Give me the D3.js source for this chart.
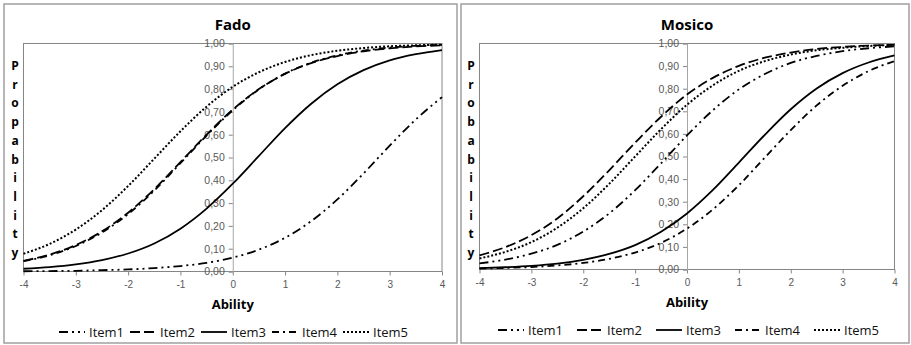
<!DOCTYPE html>
<html>
<head>
<meta charset="utf-8">
<script src="https://cdn.jsdelivr.net/npm/d3@7"></script>
<style>
  body { margin: 0; background: #fff; }
  svg { display: block; font-family: "Open Sans", "Liberation Sans", sans-serif; }
</style>
</head>
<body>
<svg id="chart" width="911" height="345"></svg>
<script>
// ability grid and ticks
const abilityGrid = [-4, -3.5, -3, -2.5, -2, -1.5, -1, -0.5, 0, 0.5, 1, 1.5, 2, 2.5, 3, 3.5, 4];
const xTickVals = [-4, -3, -2, -1, 0, 1, 2, 3, 4];
const yTickVals = [0, 0.1, 0.2, 0.3, 0.4, 0.5, 0.6, 0.7, 0.8, 0.9, 1];
const itemNames = ["Item1", "Item2", "Item3", "Item4", "Item5"];

// Fado
const fadoItem1 = [0.001, 0.002, 0.003, 0.006, 0.009, 0.015, 0.024, 0.038, 0.061, 0.096, 0.148, 0.221, 0.316, 0.430, 0.552, 0.667, 0.765];
const fadoItem2 = [0.047, 0.074, 0.116, 0.176, 0.258, 0.361, 0.480, 0.600, 0.710, 0.800, 0.867, 0.914, 0.945, 0.966, 0.979, 0.987, 0.992];
const fadoItem3 = [0.012, 0.019, 0.031, 0.050, 0.079, 0.123, 0.188, 0.276, 0.385, 0.507, 0.629, 0.736, 0.821, 0.883, 0.926, 0.953, 0.971];
const fadoItem4 = [0.045, 0.071, 0.112, 0.171, 0.252, 0.355, 0.475, 0.596, 0.707, 0.799, 0.868, 0.916, 0.948, 0.969, 0.982, 0.990, 0.994];
const fadoItem5 = [0.078, 0.121, 0.184, 0.269, 0.375, 0.495, 0.615, 0.723, 0.810, 0.874, 0.919, 0.949, 0.968, 0.980, 0.988, 0.992, 0.995];

// Mosico
const mosicoItem1 = [0.027, 0.044, 0.070, 0.109, 0.168, 0.248, 0.351, 0.470, 0.593, 0.705, 0.797, 0.865, 0.914, 0.945, 0.966, 0.979, 0.987];
const mosicoItem2 = [0.063, 0.099, 0.152, 0.226, 0.324, 0.439, 0.561, 0.676, 0.774, 0.848, 0.901, 0.937, 0.960, 0.976, 0.985, 0.991, 0.994];
const mosicoItem3 = [0.006, 0.010, 0.016, 0.026, 0.043, 0.069, 0.108, 0.167, 0.248, 0.352, 0.473, 0.596, 0.709, 0.801, 0.869, 0.916, 0.947];
const mosicoItem4 = [0.004, 0.007, 0.011, 0.018, 0.029, 0.047, 0.075, 0.118, 0.181, 0.266, 0.373, 0.495, 0.617, 0.726, 0.813, 0.878, 0.922];
const mosicoItem5 = [0.049, 0.078, 0.121, 0.185, 0.271, 0.379, 0.500, 0.621, 0.729, 0.815, 0.879, 0.922, 0.951, 0.970, 0.981, 0.989, 0.993];

// line styles per item
const dashes = ["9,4,2,4,2,4", "10,4", null, "7,4,2,4", "2,2"];

const svg = d3.select("#chart");
const fmt = d => d3.format(".2f")(d).replace(".", ",");

function drawPanel(cfg) {
  const g = svg.append("g");

  // outer frame
  g.append("rect")
    .attr("x", cfg.frame[0]).attr("y", cfg.frame[1])
    .attr("width", cfg.frame[2]).attr("height", cfg.frame[3])
    .attr("fill", "#fff").attr("stroke", "#a0a0a0").attr("stroke-width", 1.5);

  const x = d3.scaleLinear().domain([-4, 4]).range([cfg.left, cfg.right]);
  const y = d3.scaleLinear().domain([0, 1]).range([cfg.bottom, cfg.top]);

  // plot area border
  g.append("rect")
    .attr("x", cfg.left).attr("y", cfg.top)
    .attr("width", cfg.right - cfg.left).attr("height", cfg.bottom - cfg.top)
    .attr("fill", "none").attr("stroke", "#868686").attr("stroke-width", 1);

  // x axis ticks
  const xAxis = g.append("g")
    .attr("transform", `translate(0,${cfg.bottom})`)
    .call(d3.axisBottom(x).tickValues(xTickVals).tickSize(4).tickPadding(5).tickFormat(d3.format("d")));
  xAxis.select(".domain").remove();
  xAxis.selectAll("line").attr("stroke", "#868686");
  xAxis.selectAll("text").attr("fill", "#595959").style("font-size", "10px")
    .text(d => d < 0 ? "-" + Math.abs(d) : d);

  // y axis at ability 0
  const yAxis = g.append("g")
    .attr("transform", `translate(${x(0)},0)`)
    .call(d3.axisLeft(y).tickValues(yTickVals).tickSize(4).tickPadding(4).tickFormat(fmt));
  yAxis.select(".domain").attr("stroke", "#a6a6a6");
  yAxis.selectAll("line").attr("stroke", "#868686");
  yAxis.selectAll("text").attr("fill", "#595959").style("font-size", "10.5px");

  // curves
  const line = d3.line()
    .x((d, i) => x(abilityGrid[i]))
    .y(d => y(d))
    .curve(d3.curveMonotoneX);

  cfg.series.forEach((s, i) => {
    g.append("path")
      .datum(s)
      .attr("d", line)
      .attr("fill", "none")
      .attr("stroke", "#000")
      .attr("stroke-width", i === 4 ? 2 : 1.8)
      .attr("stroke-dasharray", dashes[i]);
  });

  // title
  g.append("text")
    .attr("x", x(0)).attr("y", 30)
    .attr("text-anchor", "middle")
    .style("font-size", "15px").style("font-weight", "bold")
    .text(cfg.title);

  // x label
  g.append("text")
    .attr("x", x(0)).attr("y", cfg.xLabelY)
    .attr("text-anchor", "middle")
    .style("font-size", "13px").style("font-weight", "bold")
    .text("Ability");

  // stacked y label
  g.selectAll(".ylab")
    .data(cfg.yLabel.split(""))
    .join("text")
    .attr("x", cfg.yLabelX)
    .attr("y", (d, i) => 70 + i * 18.7)
    .attr("text-anchor", "middle")
    .style("font-size", "12px").style("font-weight", "bold")
    .text(d => d);

  // legend
  const leg = g.append("g");
  itemNames.forEach((name, i) => {
    const lx = cfg.legendX + i * cfg.legendStep;
    leg.append("line")
      .attr("x1", lx).attr("x2", lx + 26)
      .attr("y1", cfg.legendY).attr("y2", cfg.legendY)
      .attr("stroke", "#000").attr("stroke-width", 1.8)
      .attr("stroke-dasharray", dashes[i]);
    leg.append("text")
      .attr("x", lx + 30).attr("y", cfg.legendY + 4.5)
      .style("font-size", "13px").attr("fill", "#111")
      .text(name);
  });
}

drawPanel({
  title: "Fado",
  frame: [4, 4, 453, 339],
  left: 23.5, right: 442, top: 43.5, bottom: 271.5,
  series: [fadoItem1, fadoItem2, fadoItem3, fadoItem4, fadoItem5],
  yLabel: "Propability",
  yLabelX: 15,
  xLabelY: 309,
  legendX: 59, legendStep: 71, legendY: 332
});

drawPanel({
  title: "Mosico",
  frame: [461, 4, 448, 339],
  left: 479.5, right: 894.5, top: 43.5, bottom: 269.5,
  series: [mosicoItem1, mosicoItem2, mosicoItem3, mosicoItem4, mosicoItem5],
  yLabel: "Probability",
  yLabelX: 471,
  xLabelY: 307,
  legendX: 498, legendStep: 79, legendY: 330
});
</script>
</body>
</html>
